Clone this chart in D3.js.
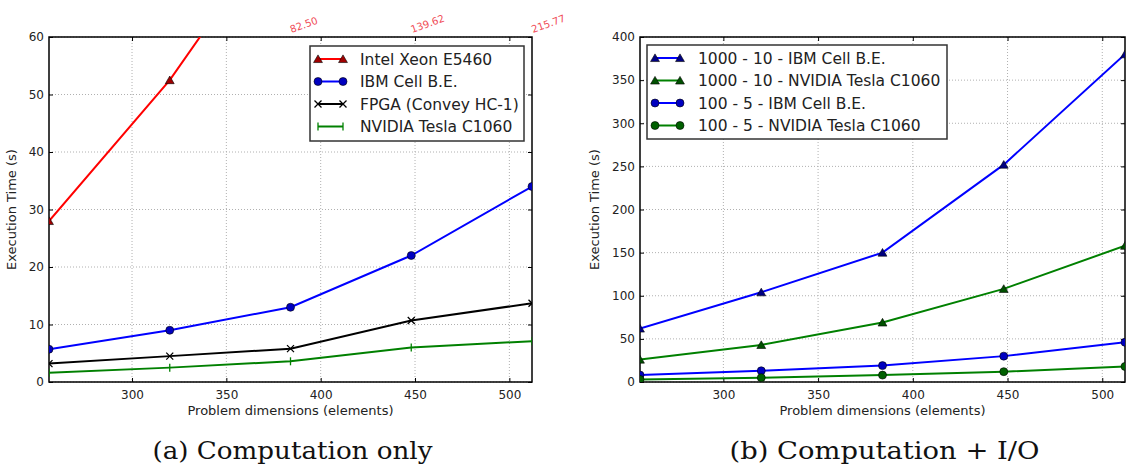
<html>
<script src='https://d3js.org/d3.v7.min.js'></script>
<style>
body {margin:0; background:#fff;}
text {font-family: "DejaVu Sans", sans-serif; fill:#222;}
.grid line {stroke:#b0b0b0; stroke-dasharray:1,2; stroke-width:1;}
.cap {font-family: "DejaVu Serif", serif; fill:#111;}
</style>
<body onload='init()'>
<svg width=1134 height=469></svg>
<script>
// problem sizes on the x axis
var sizes = [256, 320, 384, 448, 512];
var xTicks = [300, 350, 400, 450, 500];

// (a) computation only
var intelXeon = [28, 52.5, 82.50, 139.62, 215.77];
var intelLabels = ["82.50", "139.62", "215.77"];
var ibmCell = [5.7, 9, 13, 22, 34];
var fpga = [3.2, 4.5, 5.8, 10.7, 13.7];
var nvidia = [1.6, 2.5, 3.6, 6.0, 7.1];
var leftTicks = [0, 10, 20, 30, 40, 50, 60];

// (b) computation + I/O
var ibm1000 = [62, 104, 150, 252, 380];
var nv1000 = [26, 43, 69, 108, 158];
var ibm100 = [8, 13, 19, 30, 46];
var nv100 = [3, 5, 8, 12, 18];
var rightTicks = [0, 50, 100, 150, 200, 250, 300, 350, 400];

function init() {
  var svg = d3.select("svg");

  function panel(id, left, right, yMax, yTicks, series, legendBox, caption, capW, ylabX) {
    var top = 37, bottom = 382;
    var x = d3.scaleLinear().domain([256, 512]).range([left, right]);
    var y = d3.scaleLinear().domain([0, yMax]).range([bottom, top]);
    var g = svg.append("g");

    svg.append("clipPath").attr("id", id).append("rect")
      .attr("x", left).attr("y", top).attr("width", right - left).attr("height", bottom - top);

    // grid
    var grid = g.append("g").attr("class", "grid");
    grid.selectAll(".gx").data(xTicks).enter().append("line")
      .attr("x1", d => x(d)).attr("x2", d => x(d)).attr("y1", top).attr("y2", bottom);
    grid.selectAll(".gy").data(yTicks).enter().append("line")
      .attr("y1", d => y(d)).attr("y2", d => y(d)).attr("x1", left).attr("x2", right);

    // axes with inward ticks
    var ax = g.append("g").attr("transform", "translate(0," + bottom + ")")
      .call(d3.axisBottom(x).tickValues(xTicks).tickSizeInner(-4).tickSizeOuter(0).tickPadding(8));
    var ax2 = g.append("g").attr("transform", "translate(0," + top + ")")
      .call(d3.axisTop(x).tickValues(xTicks).tickSizeInner(-4).tickSizeOuter(0).tickFormat(""));
    var ay = g.append("g").attr("transform", "translate(" + left + ",0)")
      .call(d3.axisLeft(y).tickValues(yTicks).tickSizeInner(-4).tickSizeOuter(0).tickPadding(5));
    var ay2 = g.append("g").attr("transform", "translate(" + right + ",0)")
      .call(d3.axisRight(y).tickValues(yTicks).tickSizeInner(-4).tickSizeOuter(0).tickFormat(""));
    [ax, ax2, ay, ay2].forEach(function(a) {
      a.select(".domain").remove();
      a.selectAll("line").attr("stroke", "#000");
      a.selectAll("text").attr("font-size", 12).attr("fill", "#222").attr("font-family", "DejaVu Sans");
    });
    g.append("rect").attr("x", left).attr("y", top).attr("width", right - left).attr("height", bottom - top)
      .attr("fill", "none").attr("stroke", "#000").attr("stroke-width", 1.5);

    // lines
    var line = d3.line().x((d, i) => x(sizes[i])).y(d => y(d));
    var lg = g.append("g").attr("clip-path", "url(#" + id + ")");
    series.forEach(function(s) {
      lg.append("path").datum(s.values).attr("d", line)
        .attr("fill", "none").attr("stroke", s.color).attr("stroke-width", 2);
    });
    series.forEach(function(s) {
      s.values.forEach(function(v, i) {
        if (v <= yMax) drawMarker(lg, s, x(sizes[i]), y(v));
      });
    });

    // legend
    var lb = g.append("g");
    lb.append("rect").attr("x", legendBox[0]).attr("y", legendBox[1])
      .attr("width", legendBox[2]).attr("height", legendBox[3])
      .attr("fill", "#fff").attr("stroke", "#333").attr("stroke-width", 1.5);
    series.forEach(function(s, i) {
      var ly = legendBox[1] + 13 + i * 22.5;
      var lx = legendBox[0] + 8;
      lb.append("line").attr("x1", lx).attr("x2", lx + 25).attr("y1", ly).attr("y2", ly)
        .attr("stroke", s.color).attr("stroke-width", 2);
      drawMarker(lb, s, lx, ly);
      drawMarker(lb, s, lx + 25, ly);
      lb.append("text").attr("x", lx + (legendBox[4])).attr("y", ly + 5.5)
        .attr("font-size", 15.5).attr("fill", "#222").text(s.name);
    });

    g.append("text").attr("x", (left + right) / 2).attr("y", 415).attr("text-anchor", "middle")
      .attr("font-size", 13).text("Problem dimensions (elements)");
    g.append("text").attr("transform", "translate(" + ylabX + "," + (top + bottom) / 2 + ") rotate(-90)")
      .attr("text-anchor", "middle").attr("font-size", 13).text("Execution Time (s)");
    g.append("text").attr("class", "cap").attr("x", (left + right) / 2 + 2).attr("y", 459)
      .attr("text-anchor", "middle").attr("font-size", 24)
      .attr("textLength", capW).attr("lengthAdjust", "spacingAndGlyphs").text(caption);

    return {x: x, y: y};
  }

  function drawMarker(g, s, cx, cy) {
    if (s.marker == "tri") {
      g.append("path").attr("d", d3.symbol(d3.symbolTriangle, 34)())
        .attr("transform", "translate(" + cx + "," + (cy + 1) + ")")
        .attr("fill", s.face).attr("stroke", "#000").attr("stroke-width", 0.6);
    } else if (s.marker == "circle") {
      g.append("circle").attr("cx", cx).attr("cy", cy).attr("r", 4)
        .attr("fill", s.face).attr("stroke", "#000").attr("stroke-width", 0.6);
    } else if (s.marker == "x") {
      g.append("path").attr("d", "M-3.5,-3.5L3.5,3.5M-3.5,3.5L3.5,-3.5")
        .attr("transform", "translate(" + cx + "," + cy + ")")
        .attr("stroke", "#000").attr("stroke-width", 1.3);
    } else if (s.marker == "vline") {
      g.append("path").attr("d", "M0,-4L0,4")
        .attr("transform", "translate(" + cx + "," + cy + ")")
        .attr("stroke", s.color).attr("stroke-width", 1.3);
    }
  }

  var a = panel("clipA", 49, 532, 60, leftTicks, [
    {name: "Intel Xeon E5460", values: intelXeon, color: "#ff0000", face: "#a00000", marker: "tri"},
    {name: "IBM Cell B.E.", values: ibmCell, color: "#0000ff", face: "#0000c0", marker: "circle"},
    {name: "FPGA (Convey HC-1)", values: fpga, color: "#000000", face: "#000", marker: "x"},
    {name: "NVIDIA Tesla C1060", values: nvidia, color: "#008000", face: "#008000", marker: "vline"}
  ], [310, 46, 214, 95, 42], "(a) Computation only", 280, 16);

  // off-scale values of the Intel series written above the frame
  svg.append("g").selectAll("text").data(intelLabels).enter().append("text")
    .attr("transform", (d, i) => "translate(" + (a.x(sizes[i + 2]) + 1) + ",33) rotate(-20)")
    .attr("font-size", 10).style("fill", "#f04a55").text(d => d);

  panel("clipB", 640, 1125, 400, rightTicks, [
    {name: "1000 - 10 - IBM Cell B.E.", values: ibm1000, color: "#0000ff", face: "#000080", marker: "tri"},
    {name: "1000 - 10 - NVIDIA Tesla C1060", values: nv1000, color: "#008000", face: "#005000", marker: "tri"},
    {name: "100 - 5 - IBM Cell B.E.", values: ibm100, color: "#0000ff", face: "#0000c0", marker: "circle"},
    {name: "100 - 5 - NVIDIA Tesla C1060", values: nv100, color: "#008000", face: "#006000", marker: "circle"}
  ], [647, 45, 300, 94, 43], "(b) Computation + I/O", 310, 599);
}
</script>
</body>
</html>
